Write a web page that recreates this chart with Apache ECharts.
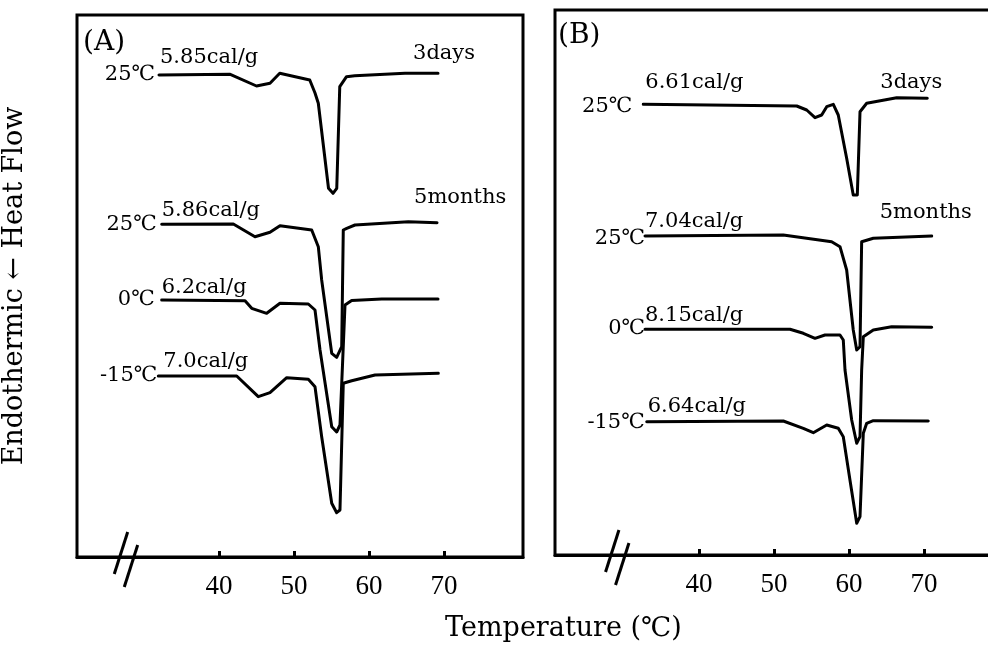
<!DOCTYPE html>
<html><head><meta charset="utf-8">
<script src="https://cdn.jsdelivr.net/npm/echarts@6/dist/echarts.min.js"></script>
<style>html,body{margin:0;padding:0;background:#fff}#c{width:988px;height:648px}</style>
</head><body><div id="c"></div>
<script>
// ---------------- data ----------------
const xTicks = [40, 50, 60, 70];
const storageTempsA = ['25℃', '25℃', '0℃', '-15℃'];
const enthalpyA = ['5.85cal/g', '5.86cal/g', '6.2cal/g', '7.0cal/g'];
const storageTempsB = ['25℃', '25℃', '0℃', '-15℃'];
const enthalpyB = ['6.61cal/g', '7.04cal/g', '8.15cal/g', '6.64cal/g'];
const agingLabels = ['3days', '5months'];
const panelLabels = ['(A)', '(B)'];

// [temperature (°C), heat flow (arbitrary, offset)]
const curveA1 = [[32.0,48.2],[41.5,48.27],[45.0,47.1],[46.8,47.37],[48.1,48.37],[52.1,47.7],[52.8,46.4],[53.24,45.37],[54.6,36.87],[55.2,36.37],[55.7,36.87],[56.1,47.03],[57.0,48.03],[58.1,48.13],[64.8,48.37],[69.2,48.37]];
const curveA2 = [[32.36,33.27],[41.91,33.3],[44.8,32.03],[46.8,32.47],[48.13,33.13],[52.36,32.7],[53.24,31.03],[53.69,27.7],[55.03,20.37],[55.69,19.97],[56.36,21.03],[56.57,32.7],[57.03,32.87],[58.13,33.2],[65.24,33.53],[69.07,33.43]];
const curveA3 = [[32.36,25.7],[43.47,25.63],[44.36,24.87],[46.36,24.37],[48.13,25.37],[51.91,25.3],[52.8,24.7],[53.47,20.7],[55.03,13.03],[55.69,12.5],[56.13,13.2],[56.8,25.2],[57.69,25.65],[61.69,25.8],[69.2,25.8]];
const curveA4 = [[31.91,18.1],[42.36,18.1],[45.24,16.03],[46.8,16.43],[49.03,17.93],[51.91,17.77],[52.8,17.03],[53.69,12.03],[55.03,5.37],[55.69,4.43],[56.13,4.7],[56.57,17.37],[57.69,17.63],[60.8,18.2],[69.24,18.37]];

const curveB1 = [[32.57,45.07],[53.03,44.9],[54.36,44.5],[55.47,43.73],[56.36,44.0],[57.03,44.83],[57.91,45.07],[58.57,44.0],[59.69,39.67],[60.57,36.0],[61.11,36.0],[61.47,44.33],[62.36,45.17],[66.36,45.73],[70.44,45.67]];
const curveB2 = [[32.8,31.9],[51.24,32.0],[57.69,31.33],[58.8,30.83],[59.69,28.5],[60.57,22.5],[61.03,20.5],[61.47,20.83],[61.69,31.33],[63.24,31.67],[71.03,31.9]];
const curveB3 = [[32.8,22.57],[52.13,22.57],[53.91,22.17],[55.47,21.67],[56.8,22.0],[58.8,22.0],[59.24,21.5],[59.47,18.5],[60.36,13.5],[61.03,11.17],[61.47,11.83],[61.69,18.5],[61.91,21.83],[63.24,22.5],[65.69,22.83],[71.03,22.77]];
const curveB4 = [[33.03,13.33],[51.24,13.4],[53.91,12.67],[55.24,12.23],[57.03,13.0],[58.57,12.67],[59.24,11.83],[60.13,7.5],[61.03,3.17],[61.47,3.83],[61.91,12.17],[62.36,13.17],[63.24,13.43],[70.57,13.4]];

const breakTemps = [27.6, 29.1];

// ---------------- chart ----------------
const chart = echarts.init(document.getElementById('c'), null, {renderer: 'canvas'});
const BLACK = '#000';
const serif = '"DejaVu Serif", "Liberation Serif", serif';

function xAxisCfg(grid, min, max) {
  return {
    type: 'value', gridIndex: grid, min: min, max: max,
    axisLine: {show: true, lineStyle: {color: BLACK, width: 3}},
    axisTick: {show: true, inside: true, length: 6, lineStyle: {color: BLACK, width: 3}, customValues: xTicks},
    axisLabel: {show: true, customValues: xTicks, margin: 16, color: BLACK, fontSize: 27, fontFamily: '"Liberation Serif", serif'},
    splitLine: {show: false}
  };
}
function yAxisCfg(grid, max, name) {
  return {
    type: 'value', gridIndex: grid, min: 0, max: max,
    axisLine: {show: false}, axisTick: {show: false}, axisLabel: {show: false}, splitLine: {show: false},
    name: name, nameLocation: 'middle', nameGap: 49,
    nameTextStyle: {color: BLACK, fontSize: 27, fontFamily: serif}
  };
}
function lineSeries(data, xi) {
  return {
    type: 'line', xAxisIndex: xi, yAxisIndex: xi, data: data,
    showSymbol: false, symbol: 'none', smooth: false, silent: true,
    lineStyle: {color: BLACK, width: 3, join: 'round', cap: 'round'}
  };
}

const curves = [curveA1, curveA2, curveA3, curveA4, curveB1, curveB2, curveB3, curveB4];

chart.setOption({
  animation: false,
  backgroundColor: '#fff',
  grid: [
    {left: 77, top: 15, width: 446, height: 542, show: true, borderColor: BLACK, borderWidth: 3, backgroundColor: 'transparent', outerBoundsMode: 'none', containLabel: false},
    {left: 555, top: 10, width: 440, height: 545, show: true, borderColor: BLACK, borderWidth: 3, backgroundColor: 'transparent', outerBoundsMode: 'none', containLabel: false}
  ],
  xAxis: [xAxisCfg(0, 21.07, 80.53), xAxisCfg(1, 20.8, 79.47)],
  yAxis: [yAxisCfg(0, 54.2, 'Endothermic ← Heat Flow'), yAxisCfg(1, 54.5, '')],
  series: curves.map((c, i) => lineSeries(c, i < 4 ? 0 : 1))
});

// ---------------- annotations placed through the axes ----------------
const g = [];
function P(si, pt) { return chart.convertToPixel({seriesIndex: si}, pt); }
function txt(text, p, dx, dy, align, size, family) {
  g.push({type: 'text', silent: true, x: p[0] + dx, y: p[1] + dy,
    style: {text: text, fill: BLACK, font: (size || 21) + 'px ' + (family || serif), textAlign: align, textVerticalAlign: 'middle'}});
}
const tempOff = [[-4, 0], [-5, 0], [-7, 0], [-1, 0], [-11, 2], [0, 3], [0, -1], [-2, 1]];
const enthOff = [[1, -17], [0, -14], [0, -12], [5, -14], [2, -22], [0, -14], [0, -14], [1, -15]];
const ageOff = [[-25, -20], [-23, -25], [-47, -16], [-52, -23]];
const temps = storageTempsA.concat(storageTempsB);
const enth = enthalpyA.concat(enthalpyB);
curves.forEach((c, i) => {
  const s = P(i, c[0]);
  txt(temps[i], s, tempOff[i][0], tempOff[i][1], 'right');
  txt(enth[i], s, enthOff[i][0], enthOff[i][1], 'left');
});
[[0, 0], [1, 1], [4, 0], [5, 1]].forEach((a, k) => {
  const c = curves[a[0]];
  const e = P(a[0], c[c.length - 1]);
  txt(agingLabels[a[1]], e, ageOff[k][0], ageOff[k][1], 'left');
});
// panel letters (top-left of each frame)
const cornerA = chart.convertToPixel({gridIndex: 0}, [21.07, 54.2]);
const cornerB = chart.convertToPixel({gridIndex: 1}, [20.8, 54.5]);
txt(panelLabels[0], cornerA, 6, 28, 'left', 28);
txt(panelLabels[1], cornerB, 3, 26, 'left', 28);
// axis break marks
breakTemps.forEach((t, gi) => {
  const p = chart.convertToPixel({gridIndex: gi}, [t, 0]);
  [[-5, -4], [5, 9]].forEach(o => {
    const cx = p[0] + o[0], cy = p[1] + o[1];
    g.push({type: 'line', silent: true, shape: {x1: cx + 6.7, y1: cy - 21, x2: cx - 6.7, y2: cy + 21},
      style: {stroke: BLACK, lineWidth: 3}});
  });
});
// x axis title, centered under both panels
const t40a = chart.convertToPixel({gridIndex: 0}, [40, 0]);
const t70b = chart.convertToPixel({gridIndex: 1}, [70, 0]);
txt('Temperature (℃)', [(t40a[0] + t70b[0]) / 2 - 8, t40a[1] + 72], 0, 0, 'center', 27);

chart.setOption({graphic: g});
</script>
</body></html>
